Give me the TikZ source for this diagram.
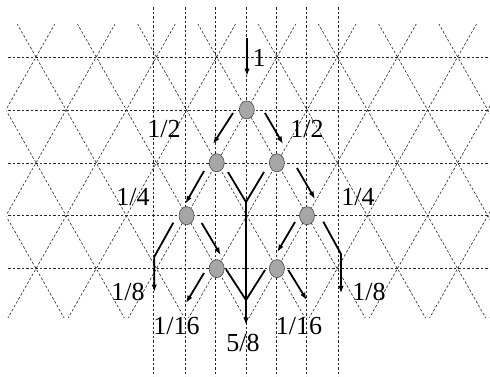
\documentclass[tikz,border=0pt]{standalone}
\usepackage{fontspec}
\setmainfont{Liberation Serif}
\usetikzlibrary{arrows.meta,shapes.geometric}
\begin{document}
\begin{tikzpicture}[x=1pt,y=-1pt,
  grid/.style={line width=0.6pt, dash pattern=on 2.6pt off 1.9pt, black!85},
  flow/.style={line width=1.8pt, black},
  flowarrow/.style={flow, -{Latex[length=7.5pt,width=5.5pt]}},
  site/.style={ellipse, draw=black!70, fill=black!35, line width=0.6pt,
    minimum width=15pt, minimum height=18pt, inner sep=0pt},
  lab/.style={font=\fontsize{26}{26}\selectfont, inner sep=0pt, anchor=base}]
\useasboundingbox (0,0) rectangle (490,376);
% triangular lattice
\begin{scope}
  \clip (6.5,24) rectangle (490,317);
  \foreach \k in {-4,...,11}{
    \pgfmathsetmacro\c{36+60.24*\k}
    \draw[grid] (\c-32.45,0) -- (\c+181.63,376);
    \draw[grid] (\c+32.45,0) -- (\c-181.63,376);
  }
\end{scope}
% horizontal lines
\foreach \j in {0,...,4}{
  \pgfmathsetmacro\yy{57+52.9*\j}
  \draw[grid] (8,\yy) -- (490,\yy);
}
% vertical lines
\foreach \xx in {153.5,185,215.5,246,276.5,306.5,338.5}{
  \draw[grid] (\xx,7) -- (\xx,376);
}
% sites
\node[site] (A) at (246.8,109.9) {};
\node[site] (B) at (216.7,162.8) {};
\node[site] (C) at (276.9,162.8) {};
\node[site] (D) at (186.6,215.7) {};
\node[site] (E) at (307,215.7) {};
\node[site] (F) at (216.7,268.6) {};
\node[site] (G) at (276.9,268.6) {};
% arrow end points
\coordinate (in0) at (247,38);   \coordinate (in1) at (247,76);
\coordinate (ab0) at (233,113);  \coordinate (ab1) at (213,144);
\coordinate (ac0) at (265,113);  \coordinate (ac1) at (283,144);
\coordinate (bd0) at (204,171);  \coordinate (bd1) at (185.5,203.5);
\coordinate (bj0) at (228,172);  \coordinate (J1) at (246,202);
\coordinate (cj0) at (264,172);
\coordinate (ce0) at (297,168);  \coordinate (ce1) at (315,199);
\coordinate (out) at (246,325);
\coordinate (df0) at (201.7,223); \coordinate (df1) at (220.7,255);
\coordinate (dl0) at (173.3,222.7); \coordinate (dl1) at (154.3,256.7); \coordinate (dl2) at (154.3,292);
\coordinate (eg0) at (295,222);  \coordinate (eg1) at (277.3,252);
\coordinate (er0) at (323.3,221.7); \coordinate (er1) at (341,254); \coordinate (er2) at (341,293.3);
\coordinate (fl0) at (204,273);  \coordinate (fl1) at (186,303);
\coordinate (fr0) at (226,269.3); \coordinate (J2) at (246,300);
\coordinate (gr0) at (288.3,270); \coordinate (gr1) at (306.7,300);
\coordinate (gl0) at (265,270);
% flows
\draw[flowarrow] (in0) -- (in1);
\draw[flowarrow] (ab0) -- (ab1);
\draw[flowarrow] (ac0) -- (ac1);
\draw[flowarrow] (bd0) -- (bd1);
\draw[flowarrow] (ce0) -- (ce1);
\draw[flow] (bj0) -- (J1);
\draw[flow] (cj0) -- (J1);
\draw[flowarrow] (J1) -- (out);
\draw[flowarrow] (df0) -- (df1);
\draw[flowarrow] (dl0) -- (dl1) -- (dl2);
\draw[flowarrow] (eg0) -- (eg1);
\draw[flowarrow] (er0) -- (er1) -- (er2);
\draw[flowarrow] (fl0) -- (fl1);
\draw[flow] (fr0) -- (J2);
\draw[flowarrow] (gr0) -- (gr1);
\draw[flow] (gl0) -- (J2);
% labels
\node[lab] (l1) at (259,66) {1};
\node[lab] (l2a) at (164,137) {1/2};
\node[lab] (l2b) at (307,137) {1/2};
\node[lab] (l4a) at (133,205) {1/4};
\node[lab] (l4b) at (358,205) {1/4};
\node[lab] (l8a) at (128,300) {1/8};
\node[lab] (l8b) at (369,300) {1/8};
\node[lab] (l16a) at (176.5,334) {1/16};
\node[lab] (l16b) at (299,334) {1/16};
\node[lab] (l58) at (243,351) {5/8};
\end{tikzpicture}
\end{document}
